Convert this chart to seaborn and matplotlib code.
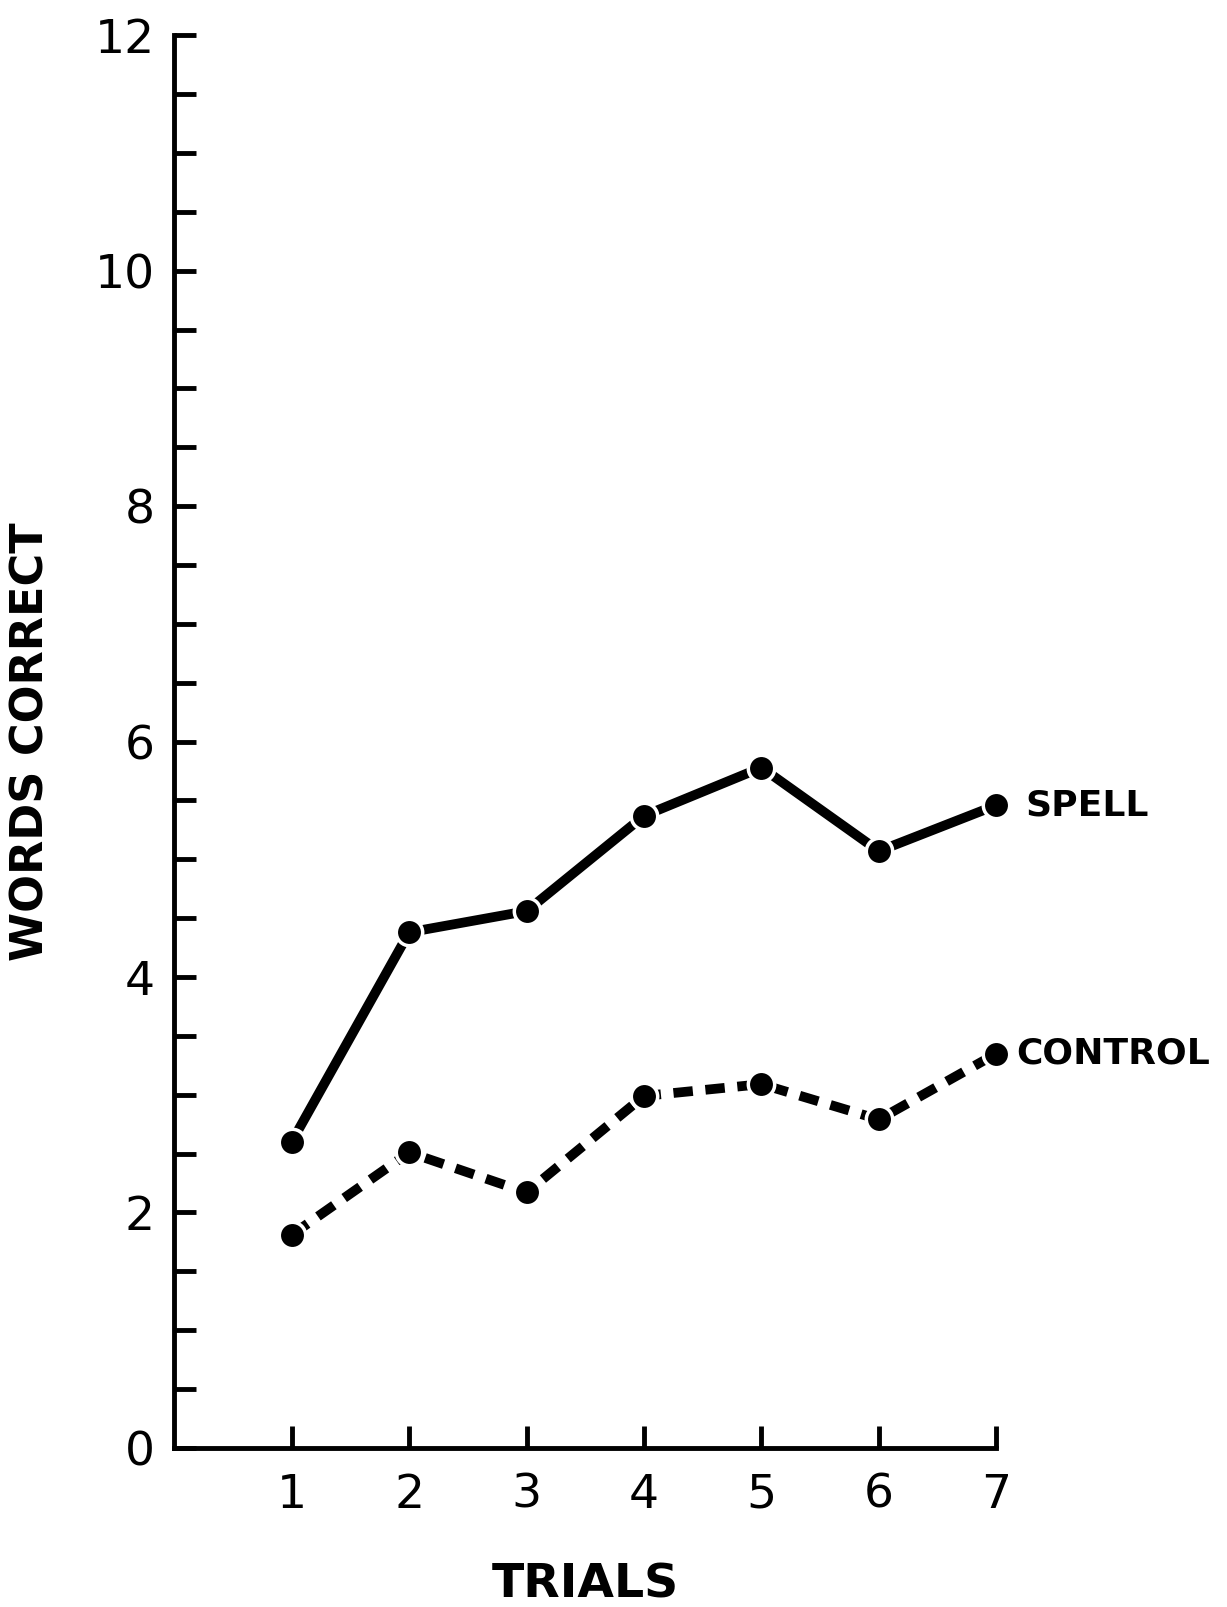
import matplotlib
matplotlib.use("Agg")
import matplotlib.pyplot as plt
import seaborn as sns
import pandas as pd
import numpy as np
from matplotlib.ticker import MultipleLocator

trials = [1, 2, 3, 4, 5, 6, 7]
spell = [2.6, 4.38, 4.56, 5.37, 5.78, 5.07, 5.46]
control = [1.81, 2.51, 2.17, 2.99, 3.09, 2.79, 3.35]
group_names = ["SPELL", "CONTROL"]
y_ticks = [0, 2, 4, 6, 8, 10, 12]
x_ticks = [1, 2, 3, 4, 5, 6, 7]
x_tick_labels = ["1", "2", "3", "4", "5", "6", "7"]

df = pd.DataFrame({
    "trial": trials * 2,
    "words": spell + control,
    "group": [group_names[0]] * len(trials) + [group_names[1]] * len(trials),
})

sns.set_theme(style="white")
plt.rcParams["font.family"] = ["DejaVu Sans"]
plt.rcParams["text.color"] = "black"
plt.rcParams["axes.labelcolor"] = "black"

fig = plt.figure(figsize=(12.27, 16.07), dpi=100)
ax = fig.add_axes([0.142, 0.099, 0.670, 0.879])

sns.lineplot(
    data=df, x="trial", y="words", style="group",
    dashes={"SPELL": "", "CONTROL": (2.0, 1.3)},
    markers={"SPELL": "o", "CONTROL": "o"},
    color="black", linewidth=7, markersize=19,
    markeredgecolor="white", markeredgewidth=2.5,
    legend=False, ax=ax, clip_on=False,
)

ax.set_xlim(0, 7)
ax.set_ylim(0, 12)
ax.set_xticks(x_ticks)
ax.set_xticklabels(x_tick_labels)
ax.set_yticks(y_ticks)
ax.yaxis.set_minor_locator(MultipleLocator(0.5))

for s in ["top", "right"]:
    ax.spines[s].set_visible(False)
for s in ["left", "bottom"]:
    ax.spines[s].set_linewidth(3.5)
    ax.spines[s].set_color("black")

ax.tick_params(axis="both", which="both", direction="in", length=16, width=3.5,
               color="black", labelsize=34, labelcolor="black")
ax.tick_params(axis="y", which="both", left=True, pad=14)
ax.tick_params(axis="x", which="both", bottom=True, pad=18)
ax.tick_params(axis="x", which="minor", bottom=False)

ax.set_xlabel("TRIALS", fontsize=34, fontweight="bold", labelpad=32, color="black")
ax.set_ylabel("WORDS CORRECT", fontsize=32, fontweight="bold", labelpad=30, color="black")

ax.annotate(group_names[0], xy=(trials[-1], spell[-1]), xytext=(21, 0),
            textcoords="offset points", fontsize=26, fontweight="bold",
            va="center", ha="left", annotation_clip=False, color="black")
ax.annotate(group_names[1], xy=(trials[-1], control[-1]), xytext=(14, 0),
            textcoords="offset points", fontsize=26, fontweight="bold",
            va="center", ha="left", annotation_clip=False, color="black")

fig.savefig("out.png", dpi=100, facecolor="white")
